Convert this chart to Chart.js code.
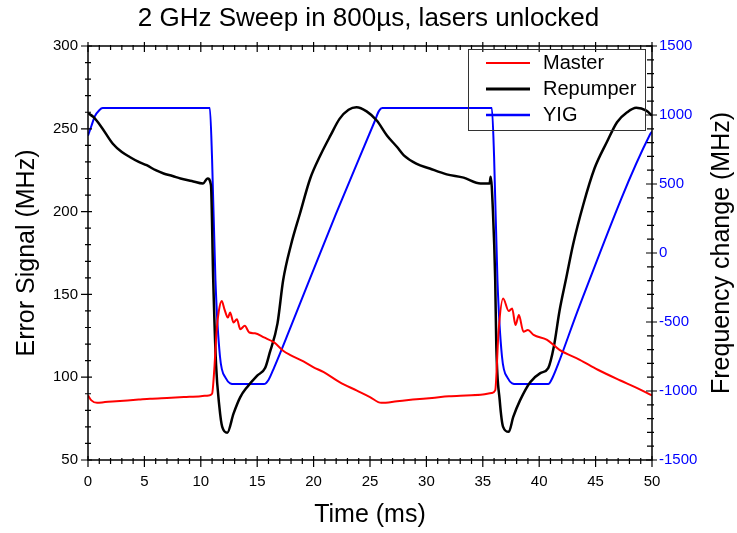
<!DOCTYPE html>
<html>
<head>
<meta charset="utf-8">
<title>2 GHz Sweep</title>
<script src="https://cdn.jsdelivr.net/npm/chart.js@4.4.1/dist/chart.umd.min.js"></script>
<style>
    html, body { margin: 0; padding: 0; background: #fff; }
    #wrap { width: 737px; height: 533px; }
</style>
</head>
<body>
<div id="wrap"><canvas id="sweepChart"></canvas></div>
<script>
// Master laser error signal (MHz) vs time (ms)
const masterTime = [0, 0.3, 0.8, 1.5, 2.5, 3.5, 4.5, 5.5, 7, 8.5, 10, 10.7, 11.0, 11.2, 11.4, 11.6, 11.85,
    12.1, 12.4, 12.6, 12.9, 13.2, 13.5, 13.9, 14.3, 14.8, 15.6, 16.5, 17.3, 17.9, 19.1, 20.0, 20.9,
    22.3, 23.8, 25.0, 26.0, 27.4, 28.8, 30.5, 32, 33.5, 35, 35.8, 36.1, 36.4, 36.8, 37.3, 37.6,
    37.9, 38.2, 38.6, 39.0, 39.5, 40.7, 41.8, 43.6, 45.2, 47.2, 48.5, 50];
const masterMhz = [89, 86, 84.5, 85, 85.5, 86, 86.5, 87, 87.5, 88, 88.5, 89, 90, 105, 128, 140, 146,
    141, 136, 139, 133, 135, 129, 131, 127, 126.5, 124, 121, 116, 113.5, 109.5, 106, 103,
    97, 92, 88, 84.5, 85.5, 86.5, 87.5, 88.5, 89, 89.5, 90.5, 92, 128, 147.5, 140, 141.5,
    131.5, 137.5, 127.5, 128.5, 125.5, 122.5, 116.5, 110.5, 104.5, 98, 94, 89];

// Repumper error signal (MHz)
const repumperTime = [0, 0.5, 1.2, 2.2, 3, 3.7, 4.5, 5.2, 6, 6.7, 7.5, 8.2, 9.2, 10.2, 10.6, 10.9,
    11.1, 11.35, 11.65, 11.9, 12.35, 12.9, 13.5, 14.1, 15.0, 15.7, 16.1, 16.8, 17.3, 18.0, 18.8,
    19.7, 20.6, 21.5, 22.3, 23.1, 23.8, 24.7, 25.6, 26.5, 27.4, 28.0, 29.1, 30.3, 31.8, 33.3,
    34.8, 35.6, 35.7, 35.9, 36.1, 36.2, 36.5, 36.8, 37.3, 37.7, 38.3, 39.2, 40.1, 40.8, 41.3,
    41.8, 42.4, 43.0, 43.9, 44.9, 46.0, 46.9, 47.8, 48.6, 49.5, 50];
const repumperMhz = [259.5, 257, 251, 241, 236, 233, 230, 228, 225, 223, 221.5, 220, 218.5, 217, 220, 216,
    159, 108, 82, 70, 66.5, 78, 88, 94, 101, 105.5, 114.5, 132.5, 158.5, 180, 199,
    220, 234, 246, 256, 261.5, 263, 260.5, 255, 246, 239, 234, 229, 226, 222.5, 220.5,
    217, 217, 221, 200, 158.5, 118, 86, 70, 67, 76, 86, 97, 102.5, 105.5, 118.5,
    140, 160, 180, 204, 226, 242, 254, 260, 262.7, 261, 258];

// YIG frequency change (MHz), right axis
const yigTime = [0, 0.3, 0.6, 1.0, 1.3, 10.8, 11.0, 11.3, 11.7, 12.2, 13.0, 15.6, 16.0, 16.5, 17.9,
    22.0, 25.4, 25.8, 26.1, 35.8, 36.0, 36.3, 36.7, 37.2, 38.0, 40.8, 41.2, 41.7, 43.6, 49.8, 50];
const yigShift = [850, 920, 990, 1035, 1050, 1050, 680, -200, -750, -905, -950, -950, -920, -830, -550,
    288, 951, 1030, 1050, 1050, 700, -200, -750, -905, -950, -950, -900, -800, -377, 855, 880];

const seriesNames = ['Master', 'Repumper', 'YIG'];
const seriesColors = ['#ff0000', '#000000', '#0000ff'];

const toPoints = (xs, ys) => xs.map((x, i) => ({ x: x, y: ys[i] }));

const FONT = "'Liberation Sans', Arial, sans-serif";
Chart.defaults.font.family = FONT;
Chart.defaults.color = '#000';

// axis frame with major/minor ticks on all four sides
const frameTicks = {
    id: 'frameTicks',
    afterDatasetsDraw(chart) {
        const { ctx, chartArea: a, scales } = chart;
        ctx.save();
        ctx.strokeStyle = '#000';
        ctx.lineWidth = 1.5;
        ctx.strokeRect(a.left, a.top, a.right - a.left, a.bottom - a.top);
        ctx.lineWidth = 1.2;
        ctx.beginPath();
        const tickRun = (scale, min, max, step, majorEvery, draw) => {
            const n = Math.round((max - min) / step);
            for (let i = 0; i <= n; i++) {
                const v = min + i * step;
                draw(scale.getPixelForValue(v), i % majorEvery === 0);
            }
        };
        // bottom and top
        tickRun(scales.x, 0, 50, 1, 5, (px, major) => {
            const out = major ? 7 : 4, inn = major ? 4 : 2;
            ctx.moveTo(px, a.bottom + out); ctx.lineTo(px, a.bottom - inn);
            ctx.moveTo(px, a.top - out + 3); ctx.lineTo(px, a.top + inn + 2);
        });
        // left
        tickRun(scales.y, 50, 300, 10, 5, (py, major) => {
            const out = major ? 7 : 3, inn = major ? 4 : 3;
            ctx.moveTo(a.left - out, py); ctx.lineTo(a.left + inn, py);
        });
        // right
        tickRun(scales.y1, -1500, 1500, 100, 5, (py, major) => {
            const out = major ? 5 : 2, inn = major ? 6 : 5;
            ctx.moveTo(a.right + out, py); ctx.lineTo(a.right - inn, py);
        });
        ctx.stroke();
        ctx.restore();
    }
};

// right axis title, reading bottom to top like the left one
const rightTitle = {
    id: 'rightTitle',
    afterDraw(chart) {
        const { ctx, chartArea: a } = chart;
        ctx.save();
        ctx.translate(722, (a.top + a.bottom) / 2);
        ctx.rotate(-Math.PI / 2);
        ctx.font = '25px ' + FONT;
        ctx.fillStyle = '#000';
        ctx.textAlign = 'center';
        ctx.textBaseline = 'middle';
        ctx.fillText('Frequency change (MHz)', 0, 0);
        ctx.restore();
    }
};

// boxed legend inside the plot, top right
const boxLegend = {
    id: 'boxLegend',
    afterDraw(chart) {
        const { ctx } = chart;
        ctx.save();
        ctx.strokeStyle = '#333';
        ctx.lineWidth = 1;
        ctx.strokeRect(468.5, 49.5, 177, 81);
        ctx.font = '20px ' + FONT;
        ctx.textBaseline = 'middle';
        ctx.fillStyle = '#000';
        const widths = [2, 3, 2.5];
        seriesNames.forEach((name, i) => {
            const y = 63 + i * 26;
            ctx.strokeStyle = seriesColors[i];
            ctx.lineWidth = widths[i];
            ctx.beginPath();
            ctx.moveTo(486, y);
            ctx.lineTo(530, y);
            ctx.stroke();
            ctx.fillText(name, 543, y);
        });
        ctx.restore();
    }
};

const sweepCtx = document.getElementById('sweepChart').getContext('2d');
new Chart(sweepCtx, {
    type: 'line',
    data: {
        datasets: [{
            label: seriesNames[0],
            data: toPoints(masterTime, masterMhz),
            borderColor: seriesColors[0],
            borderWidth: 2,
            yAxisID: 'y'
        }, {
            label: seriesNames[1],
            data: toPoints(repumperTime, repumperMhz),
            borderColor: seriesColors[1],
            borderWidth: 2.5,
            yAxisID: 'y'
        }, {
            label: seriesNames[2],
            data: toPoints(yigTime, yigShift),
            borderColor: seriesColors[2],
            borderWidth: 2,
            yAxisID: 'y1'
        }]
    },
    options: {
        responsive: true,
        maintainAspectRatio: false,
        animation: false,
        devicePixelRatio: 1,
        elements: {
            point: { radius: 0 },
            line: { cubicInterpolationMode: 'monotone', fill: false }
        },
        layout: { padding: 0 },
        plugins: {
            legend: { display: false },
            tooltip: { enabled: false },
            title: {
                display: true,
                text: '2 GHz Sweep in 800µs, lasers unlocked',
                color: '#000',
                font: { size: 26, weight: 'normal' },
                padding: { top: 3, bottom: 11.8 }
            }
        },
        scales: {
            x: {
                type: 'linear',
                min: 0,
                max: 50,
                grid: { drawOnChartArea: false, drawTicks: false },
                border: { display: false },
                ticks: { stepSize: 5, font: { size: 15 }, padding: 13, maxRotation: 0 },
                title: {
                    display: true,
                    text: 'Time (ms)',
                    font: { size: 25 },
                    padding: { top: 0, bottom: 3 }
                },
                afterFit: s => { s.height = 73; }
            },
            y: {
                position: 'left',
                min: 50,
                max: 300,
                grid: { drawOnChartArea: false, drawTicks: false },
                border: { display: false },
                ticks: { stepSize: 50, font: { size: 15 }, padding: 10 },
                title: {
                    display: true,
                    text: 'Error Signal (MHz)',
                    font: { size: 25 },
                    padding: { top: 12, bottom: 0 }
                },
                afterFit: s => { s.width = 88; }
            },
            y1: {
                position: 'right',
                min: -1500,
                max: 1500,
                grid: { drawOnChartArea: false, drawTicks: false },
                border: { display: false },
                ticks: {
                    stepSize: 500,
                    color: '#0000ff',
                    font: { size: 15 },
                    padding: 7,
                    callback: v => String(v)
                },
                afterFit: s => { s.width = 85; }
            }
        }
    },
    plugins: [frameTicks, rightTitle, boxLegend]
});
</script>
</body>
</html>
